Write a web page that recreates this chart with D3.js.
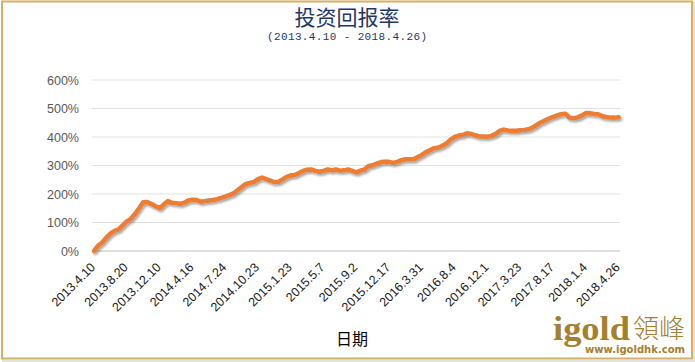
<!DOCTYPE html>
<html lang="zh">
<head>
<meta charset="utf-8">
<title>投资回报率</title>
<script src="https://cdn.jsdelivr.net/npm/d3@7"></script>
<style>
  * { margin:0; padding:0; }
  body { background:#fff; }
  svg { display:block; }
</style>
</head>
<body>
<div id="chart"></div>
<script>
// x axis labels (one every 8 points)
var tickLabels = ["2013.4.10","2013.8.20","2013.12.10","2014.4.16","2014.7.24","2014.10.23",
  "2015.1.23","2015.5.7","2015.9.2","2015.12.17","2016.3.31","2016.8.4","2016.12.1",
  "2017.3.23","2017.8.17","2018.1.4","2018.4.26"];
var pointsPerLabel = 8;

// cumulative return, %
var returns = [
  0,19,30,47,61,71,76,90,104,113,130,150,171,172,165,157,
  150,163,175,169,168,166,169,177,180,179,173,175,177,179,182,186,
  191,196,202,213,224,235,239,242,252,258,252,247,242,243,251,260,
  265,267,274,281,285,286,281,278,281,286,283,286,282,283,286,281,
  276,282,286,298,301,307,312,313,313,309,313,319,322,322,322,330,
  337,347,354,361,363,369,377,391,400,405,407,413,411,406,402,402,
  401,404,411,422,426,423,422,422,424,425,427,433,442,451,458,465,
  471,476,480,482,468,466,469,475,484,483,481,480,473,470,468,468,
  469
];
var yTicks = [0,100,200,300,400,500,600];

var W = 695, H = 362;
var svg = d3.select("#chart").append("svg").attr("width", W).attr("height", H);

// shadow for the line
var defs = svg.append("defs");
defs.append("filter").attr("id","shadow").attr("x","-5%").attr("y","-5%").attr("width","110%").attr("height","120%")
  .append("feDropShadow").attr("dx",1.5).attr("dy",2).attr("stdDeviation",1.2)
  .attr("flood-color","#000").attr("flood-opacity",0.35);

// frame
svg.append("rect").attr("x",3).attr("y",3).attr("width",W-4).attr("height",H-4)
  .attr("fill","none").attr("stroke","#e2e2e2").attr("stroke-width",2);
svg.append("rect").attr("x",2).attr("y",1.5).attr("width",W-5).attr("height",H-5)
  .attr("fill","#fff").attr("stroke","#d4b062").attr("stroke-width",2);

var x = d3.scaleLinear().domain([0, returns.length-1]).range([94, 618.6]);
var y = d3.scaleLinear().domain([0, 600]).range([251, 80]);

// gridlines
svg.append("g").selectAll("line").data(yTicks).join("line")
  .attr("x1",92).attr("x2",620)
  .attr("y1",d => y(d)).attr("y2",d => y(d))
  .attr("stroke",d => d==0 ? "#bfbfbf" : "#e3e3e3").attr("stroke-width",1.2);

// y labels
var yAxis = d3.axisLeft(y).tickValues(yTicks).tickFormat(d => d + "%").tickSize(0).tickPadding(0);
var gy = svg.append("g").attr("transform","translate(79,0)").call(yAxis);
gy.select(".domain").remove();
gy.selectAll("text").attr("fill","#595959")
  .style("font-family","'Liberation Sans', Arial, sans-serif").style("font-size","12.5px");

// x labels
svg.append("g").selectAll("text").data(tickLabels).join("text")
  .attr("transform",(d,i) => "translate(" + (x(i*pointsPerLabel)+2) + ",268) rotate(-45)")
  .attr("text-anchor","end")
  .attr("fill","#1a1a1a")
  .style("font-family","'Liberation Sans', Arial, sans-serif").style("font-size","12.5px")
  .text(d => d);

// the line
var line = d3.line().x((d,i) => x(i)).y(d => y(d));
svg.append("path").datum(returns).attr("d",line)
  .attr("fill","none").attr("stroke","#ed7d31").attr("stroke-width",4.5)
  .attr("stroke-linejoin","round").attr("stroke-linecap","round")
  .attr("filter","url(#shadow)");

// titles
svg.append("text").attr("x",347).attr("y",25).attr("text-anchor","middle")
  .attr("fill","#1f3864").style("font-family","'Noto Sans CJK SC', sans-serif").style("font-size","21px")
  .text("投资回报率");
svg.append("text").attr("x",347).attr("y",39.5).attr("text-anchor","middle")
  .attr("fill","#1f3864").style("font-family","'Liberation Mono', monospace").style("font-size","11px")
  .attr("textLength",160).attr("lengthAdjust","spacing")
  .text("(2013.4.10 - 2018.4.26)");
svg.append("text").attr("x",352).attr("y",345).attr("text-anchor","middle")
  .attr("fill","#000").style("font-family","'Noto Sans CJK SC', sans-serif").style("font-size","16px")
  .text("日期");

// logo
var gold = "#a3812f";
svg.append("text").attr("x",553).attr("y",340).attr("fill",gold)
  .style("font-family","'Liberation Serif', 'DejaVu Serif', serif").style("font-weight","bold").style("font-size","33px")
  .attr("textLength",77).attr("lengthAdjust","spacingAndGlyphs").text("igold");
svg.append("text").attr("x",633).attr("y",338).attr("fill",gold)
  .style("font-family","'Noto Sans CJK TC', sans-serif").style("font-weight","300").style("font-size","26px")
  .text("領峰");
svg.append("text").attr("x",585).attr("y",353).attr("fill",gold)
  .style("font-family","'DejaVu Sans', sans-serif").style("font-weight","bold").style("font-size","10.5px")
  .attr("textLength",100).attr("lengthAdjust","spacingAndGlyphs").text("www.igoldhk.com");
</script>
</body>
</html>
